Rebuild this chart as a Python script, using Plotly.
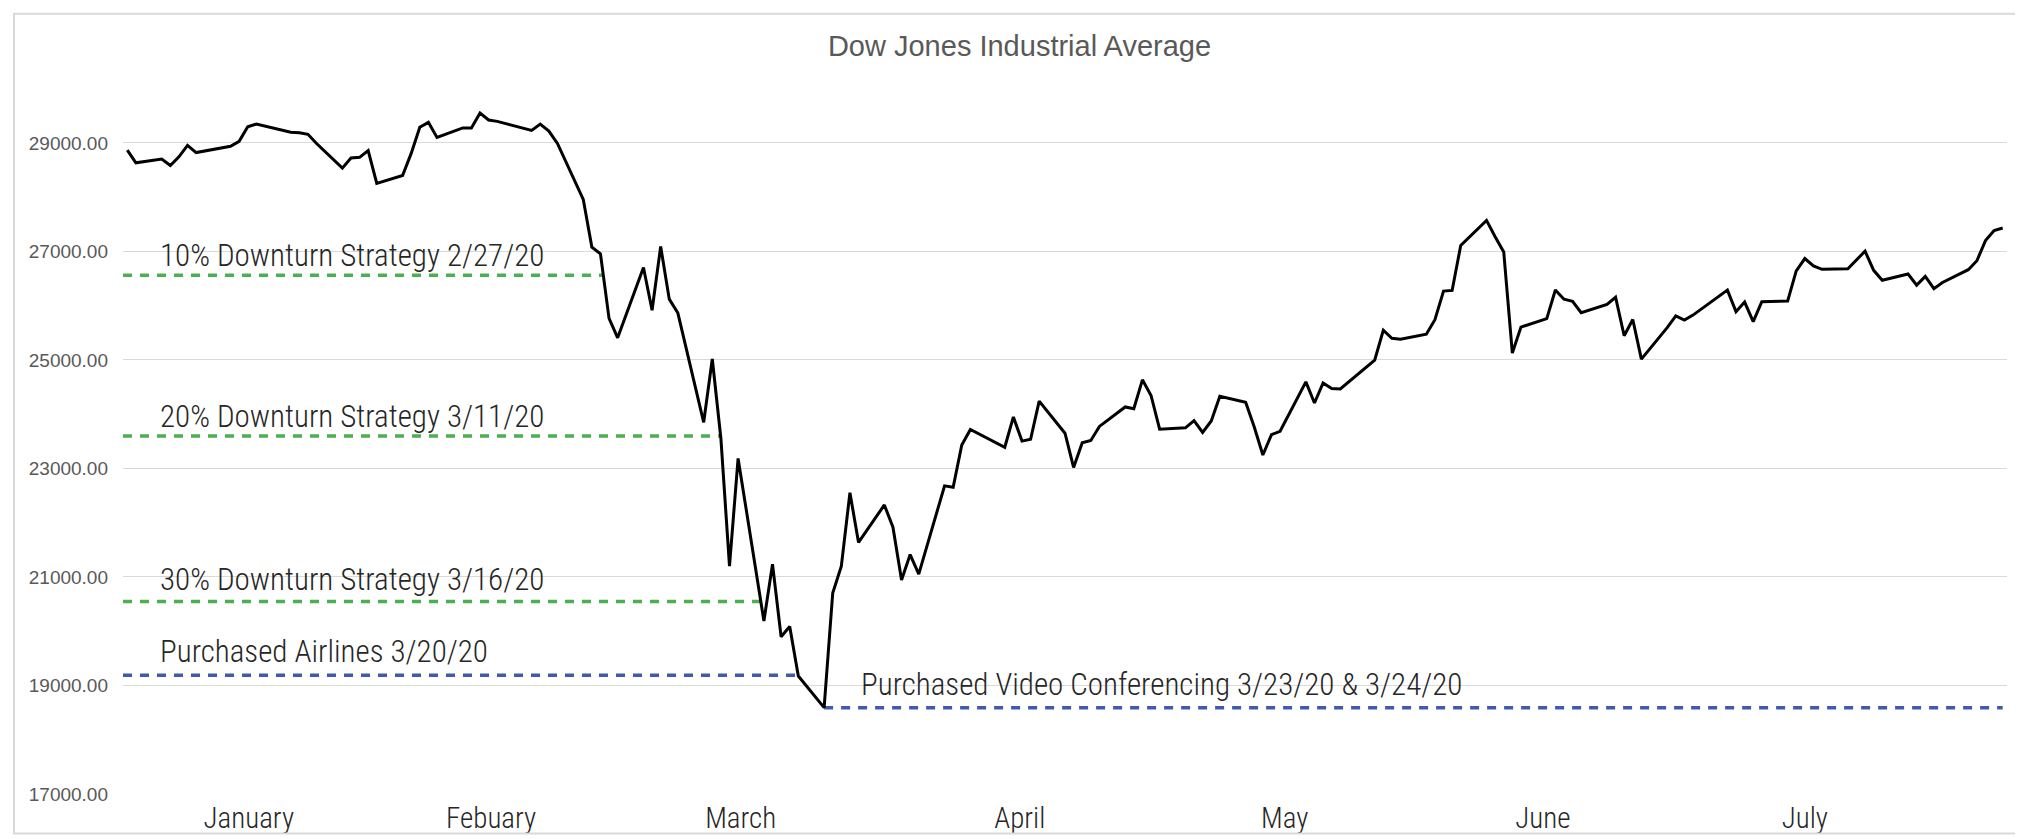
import plotly.graph_objects as go

# ---------------- data ----------------
dates = [
    "2020-01-02", "2020-01-03", "2020-01-06", "2020-01-07", "2020-01-08", "2020-01-09", "2020-01-10",
    "2020-01-13", "2020-01-14", "2020-01-15", "2020-01-16", "2020-01-17", "2020-01-21", "2020-01-22",
    "2020-01-23", "2020-01-24", "2020-01-27", "2020-01-28", "2020-01-29", "2020-01-30", "2020-01-31",
    "2020-02-03", "2020-02-04", "2020-02-05", "2020-02-06", "2020-02-07", "2020-02-10", "2020-02-11",
    "2020-02-12", "2020-02-13", "2020-02-14", "2020-02-18", "2020-02-19", "2020-02-20", "2020-02-21",
    "2020-02-24", "2020-02-25", "2020-02-26", "2020-02-27", "2020-02-28",
    "2020-03-02", "2020-03-03", "2020-03-04", "2020-03-05", "2020-03-06", "2020-03-09", "2020-03-10",
    "2020-03-11", "2020-03-12", "2020-03-13", "2020-03-16", "2020-03-17", "2020-03-18", "2020-03-19",
    "2020-03-20", "2020-03-23", "2020-03-24", "2020-03-25", "2020-03-26", "2020-03-27", "2020-03-30",
    "2020-03-31",
    "2020-04-01", "2020-04-02", "2020-04-03", "2020-04-06", "2020-04-07", "2020-04-08", "2020-04-09",
    "2020-04-13", "2020-04-14", "2020-04-15", "2020-04-16", "2020-04-17", "2020-04-20", "2020-04-21",
    "2020-04-22", "2020-04-23", "2020-04-24", "2020-04-27", "2020-04-28", "2020-04-29", "2020-04-30",
    "2020-05-01", "2020-05-04", "2020-05-05", "2020-05-06", "2020-05-07", "2020-05-08", "2020-05-11",
    "2020-05-12", "2020-05-13", "2020-05-14", "2020-05-15", "2020-05-18", "2020-05-19", "2020-05-20",
    "2020-05-21", "2020-05-22", "2020-05-26", "2020-05-27", "2020-05-28", "2020-05-29",
    "2020-06-01", "2020-06-02", "2020-06-03", "2020-06-04", "2020-06-05", "2020-06-08", "2020-06-09",
    "2020-06-10", "2020-06-11", "2020-06-12", "2020-06-15", "2020-06-16", "2020-06-17", "2020-06-18",
    "2020-06-19", "2020-06-22", "2020-06-23", "2020-06-24", "2020-06-25", "2020-06-26", "2020-06-29",
    "2020-06-30",
    "2020-07-01", "2020-07-02", "2020-07-06", "2020-07-07", "2020-07-08", "2020-07-09", "2020-07-10",
    "2020-07-13", "2020-07-14", "2020-07-15", "2020-07-16", "2020-07-17", "2020-07-20", "2020-07-21",
    "2020-07-22", "2020-07-23", "2020-07-24", "2020-07-27", "2020-07-28", "2020-07-29", "2020-07-30",
    "2020-07-31",
    "2020-08-03", "2020-08-04", "2020-08-05", "2020-08-06", "2020-08-07",
]

closes = [
    28868.80, 28634.88, 28703.38, 28583.68, 28745.09, 28956.90, 28823.77,
    28907.05, 28939.67, 29030.22, 29297.64, 29348.10, 29196.04, 29186.27,
    29160.09, 28989.73, 28535.80, 28722.85, 28734.45, 28859.44, 28256.03,
    28399.81, 28807.63, 29290.85, 29379.77, 29102.51, 29276.82, 29276.34,
    29551.42, 29423.31, 29398.08, 29232.19, 29348.03, 29219.98, 28992.41,
    27960.80, 27081.36, 26957.59, 25766.64, 25409.36,
    26703.32, 25917.41, 27090.86, 26121.28, 25864.78, 23851.02, 25018.16,
    23553.22, 21200.62, 23185.62, 20188.52, 21237.38, 19898.92, 20087.19,
    19173.98, 18591.93, 20704.91, 21200.55, 22552.17, 21636.78, 22327.48,
    21917.16,
    20943.51, 21413.44, 21052.53, 22679.99, 22653.86, 23433.57, 23719.37,
    23390.77, 23949.76, 23504.35, 23537.68, 24242.49, 23650.44, 23018.88,
    23475.82, 23515.26, 23775.27, 24133.78, 24101.55, 24633.86, 24345.72,
    23723.69, 23749.76, 23883.09, 23664.64, 23875.89, 24331.32, 24221.99,
    23764.78, 23247.97, 23625.34, 23685.42, 24597.37, 24206.86, 24575.90,
    24474.12, 24465.16, 24995.11, 25548.27, 25400.64, 25383.11,
    25475.02, 25742.65, 26269.89, 26281.82, 27110.98, 27572.44, 27272.30,
    26989.99, 25128.17, 25605.54, 25763.16, 26289.98, 26119.61, 26080.10,
    25871.46, 26024.96, 26156.10, 25445.94, 25745.60, 25015.55, 25595.80,
    25812.88,
    25734.97, 25827.36, 26287.03, 25890.18, 26067.28, 25706.09, 26075.30,
    26085.80, 26642.59, 26870.10, 26734.71, 26671.95, 26680.87, 26840.40,
    27005.84, 26652.33, 26469.89, 26584.77, 26379.28, 26539.57, 26313.65,
    26428.32,
    26664.40, 26828.47, 27201.52, 27386.98, 27433.48,
]

title_text = "Dow Jones Industrial Average"

month_labels = ["January", "Febuary", "March", "April", "May", "June", "July"]
month_label_dates = ["2020-01-16 03:00", "2020-02-13 07:00", "2020-03-13 07:00", "2020-04-14 18:00",
                     "2020-05-15 13:00", "2020-06-14 13:00", "2020-07-15 00:00"]

y_tick_values = [17000, 19000, 21000, 23000, 25000, 27000, 29000]

strategy_labels = ["10% Downturn Strategy 2/27/20",
                   "20% Downturn Strategy 3/11/20",
                   "30% Downturn Strategy 3/16/20"]
strategy_levels = [26560, 23600, 20550]
strategy_start = ["2020-01-01 12:00", "2020-01-01 12:00", "2020-01-01 12:00"]
strategy_end = ["2020-02-26 07:00", "2020-03-10 22:00", "2020-03-15 15:00"]

purchase_labels = ["Purchased Airlines 3/20/20",
                   "Purchased Video Conferencing 3/23/20 & 3/24/20"]
purchase_levels = [19190, 18592]
purchase_start = ["2020-01-01 12:00", "2020-03-23"]
purchase_end = ["2020-03-20", "2020-08-07"]

x_range = ["2020-01-01 12:00", "2020-08-07 12:00"]

# ---------------- layout geometry (pixels) ----------------
W, H = 2023, 839
ML, MR, MT, MB = 115, 24, 60, 43
PW = W - ML - MR
PH = H - MT - MB
Y_MIN = 17000
PX_PER_UNIT = 110 / 2000.0
Y_MAX = Y_MIN + PH / PX_PER_UNIT


def px_x(px):
    return (px - ML) / PW


def px_y(py):
    return (H - MB - py) / PH


GREEN = "#4CAF50"
BLUE = "#3F5BA9"
GRID = "#D9D9D9"
NARROW = "Roboto Condensed, Liberation Sans Narrow, Arial Narrow, DejaVu Sans Condensed, Liberation Sans, sans-serif"

fig = go.Figure()

for lvl, x0, x1 in zip(strategy_levels, strategy_start, strategy_end):
    fig.add_trace(go.Scatter(x=[x0, x1], y=[lvl, lvl], mode="lines",
                             line=dict(color=GREEN, width=3.5, dash="9px,8px"),
                             hoverinfo="skip", showlegend=False))
for lvl, x0, x1 in zip(purchase_levels, purchase_start, purchase_end):
    fig.add_trace(go.Scatter(x=[x0, x1], y=[lvl, lvl], mode="lines",
                             line=dict(color=BLUE, width=3.5, dash="9px,8px"),
                             hoverinfo="skip", showlegend=False))

fig.add_trace(go.Scatter(x=dates, y=closes, mode="lines",
                         line=dict(color="#000000", width=3),
                         name="DJIA", showlegend=False))

# annotation text: (label, left px, center px, white box px)
label_specs = [
    (strategy_labels[0], 150, 250, (136, 545)),
    (strategy_labels[1], 150, 413, (136, 545)),
    (strategy_labels[2], 150, 579, (136, 545)),
    (purchase_labels[0], 150, 652, (136, 470)),
    (purchase_labels[1], 851, 685, (837, 1419)),
]

shapes = []
annotations = []
for text, lx, cy, (bx0, bx1) in label_specs:
    shapes.append(dict(type="rect", xref="paper", yref="paper", layer="between",
                       x0=px_x(bx0), x1=px_x(bx1), y0=px_y(cy + 13), y1=px_y(cy - 13),
                       fillcolor="white", line=dict(width=0)))
    annotations.append(dict(text=text, xref="paper", yref="paper",
                            x=px_x(lx), y=px_y(cy), xanchor="left", yanchor="middle",
                            showarrow=False,
                            font=dict(family=NARROW, size=31, color="#262626", weight=300)))

# chart outer border
shapes.append(dict(type="rect", xref="paper", yref="paper", layer="above",
                   x0=px_x(6), x1=px_x(2018), y0=px_y(836), y1=px_y(5),
                   line=dict(color=GRID, width=2), fillcolor="rgba(0,0,0,0)"))

fig.update_layout(
    width=W, height=H,
    margin=dict(l=ML, r=MR, t=MT, b=MB),
    paper_bgcolor="white", plot_bgcolor="white",
    title=dict(text=title_text, x=0.5, xanchor="center", xref="container",
               y=1 - 38 / H, yref="container", yanchor="middle",
               font=dict(family="Liberation Sans, Arial, sans-serif", size=29, color="#595959")),
    xaxis=dict(type="date", range=x_range, showgrid=False, zeroline=False,
               showline=False, ticks="",
               tickmode="array", tickvals=month_label_dates, ticktext=month_labels,
               tickfont=dict(family=NARROW, size=29, color="#262626", weight=300),
               ticklabelstandoff=4),
    yaxis=dict(range=[Y_MIN, Y_MAX], tickmode="array", tickvals=y_tick_values,
               tickformat=".2f", showgrid=True, gridcolor=GRID, gridwidth=1.3,
               zeroline=False, showline=False, ticks="",
               tickfont=dict(family="Liberation Sans, Arial, sans-serif", size=19, color="#595959"),
               ticklabelstandoff=14),
    shapes=shapes,
    annotations=annotations,
)

fig.write_html("out.html")
